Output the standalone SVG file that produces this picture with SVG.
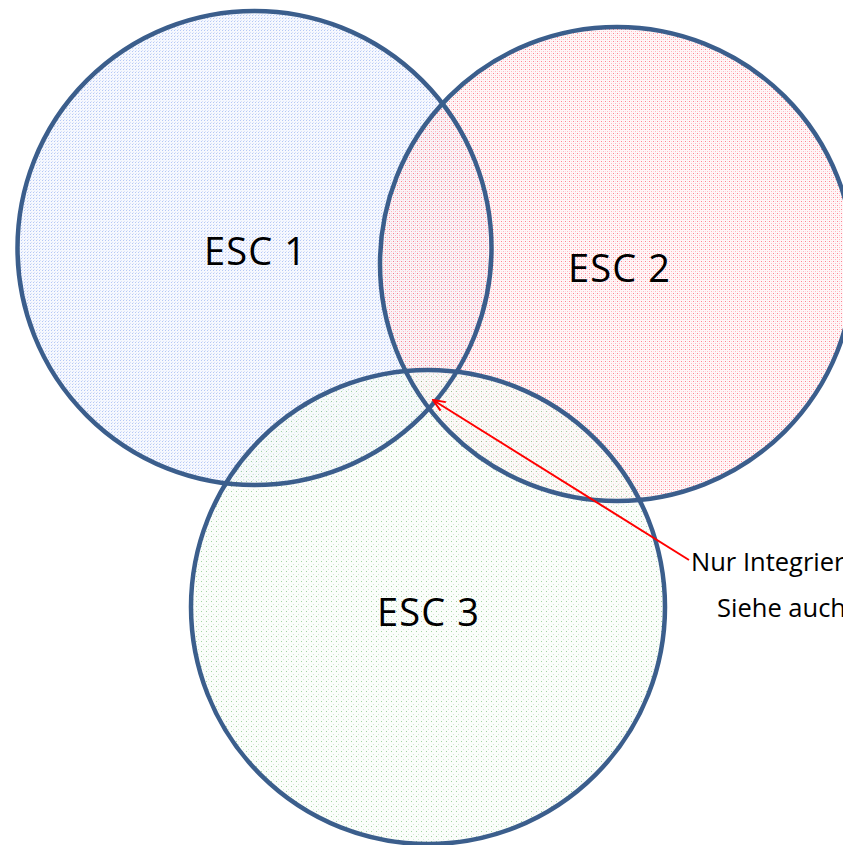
<svg xmlns="http://www.w3.org/2000/svg" width="843" height="845" viewBox="0 0 843 845">
<style>
.ring{fill:none;stroke:#3b5e8c;stroke-width:4.5}
.lbl{font-family:"Open Sans","Liberation Sans",sans-serif;font-size:38px;fill:#000}
.note{font-family:"Open Sans","Liberation Sans",sans-serif;font-size:25.5px;fill:#000}
</style>
<defs>
<pattern id="pb" width="3" height="3" patternUnits="userSpaceOnUse"><rect width="3" height="3" fill="#f6f8fe"/><rect x="0" y="0" width="1" height="1" fill="#b5c8f5"/><rect x="1" y="2" width="1" height="1" fill="#d8e2fa"/></pattern>
<pattern id="pr" width="4" height="4" patternUnits="userSpaceOnUse"><rect width="4" height="4" fill="#fff4f5"/><rect x="1" y="1" width="1" height="1" fill="#ff5a6e"/><rect x="3" y="3" width="1" height="1" fill="#ff9eaa"/><rect x="3" y="1" width="1" height="1" fill="#ffd0d6"/><rect x="1" y="3" width="1" height="1" fill="#ffd0d6"/></pattern>
<pattern id="pg" width="5" height="5" patternUnits="userSpaceOnUse"><rect width="5" height="5" fill="#f9fcf9"/><rect x="1" y="1" width="1" height="1" fill="#7cc07c"/><rect x="3" y="4" width="1" height="1" fill="#c2e2c2"/></pattern>
<marker id="ah" markerWidth="14" markerHeight="12" refX="13" refY="6" orient="auto" markerUnits="userSpaceOnUse"><path d="M1,1 L13,6 L1,11" fill="none" stroke="#ff0000" stroke-width="2"/></marker>
</defs>
<g id="fills">
<circle cx="254.5" cy="248" r="237" fill="url(#pb)"/>
<circle cx="617" cy="264" r="237" fill="url(#pr)" fill-opacity="0.75"/>
<circle cx="428" cy="607" r="237" fill="url(#pg)" fill-opacity="0.7"/>
</g>
<g id="esc1"><circle class="ring" cx="254.5" cy="248" r="237"/><text class="lbl" x="204" y="265" textLength="102">ESC 1</text></g>
<g id="esc2"><circle class="ring" cx="617" cy="264" r="237"/><text class="lbl" x="568" y="282" textLength="102">ESC 2</text></g>
<g id="esc3"><circle class="ring" cx="428" cy="607" r="237"/><text class="lbl" x="377" y="626" textLength="102">ESC 3</text></g>
<g id="connectors"><line x1="689" y1="560" x2="433" y2="400" stroke="#ff0000" stroke-width="2" marker-end="url(#ah)"/></g>
<g id="note"><text class="note" x="691" y="571">Nur Integrierte</text><text class="note" x="717" y="617">Siehe auch</text></g>
</svg>
